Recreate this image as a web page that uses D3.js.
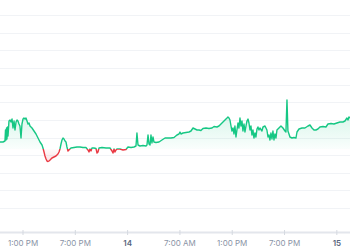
<!DOCTYPE html>
<html lang="en">
<head>
<meta charset="UTF-8">
<script src="https://d3js.org/d3.v7.min.js"></script>
<style>
    body { margin: 0; background: #fff; }
    .tick-label { font-family: Inter, "Noto Sans", sans-serif; font-size: 8px; fill: #8a93a6; }
    .tick-label.day { font-weight: 600; fill: #58667e; }
</style>
</head>
<body>
<div id="chart"></div>
<script>
// time in hours from 13th 00:00, price in quote units
const times = [10.36,10.70,10.93,10.99,11.05,11.11,11.16,11.22,11.28,11.39,11.51,11.62,11.74,11.85,11.97,12.08,12.20,12.31,12.42,12.54,
    12.65,12.77,12.88,13.00,13.11,13.23,13.34,13.46,13.57,13.69,13.80,14.03,14.26,14.49,14.72,14.95,15.18,15.29,15.41,15.52,
    15.64,15.75,15.87,15.98,16.10,16.32,16.55,16.78,17.01,17.13,17.24,17.36,17.47,17.59,17.70,17.82,17.93,18.04,18.16,18.27,
    18.50,18.85,19.19,19.54,19.88,20.22,20.45,20.57,20.68,20.80,20.91,21.14,21.37,21.49,21.60,21.72,22.06,22.52,22.98,23.21,
    23.32,23.44,23.55,23.67,23.78,24.12,24.47,24.81,25.04,25.39,25.73,25.96,26.07,26.19,26.42,26.76,27.11,27.22,27.34,27.45,
    27.57,27.68,27.79,27.91,28.02,28.25,28.60,28.94,29.29,29.63,29.97,30.32,30.66,30.89,31.01,31.12,31.35,31.69,32.04,32.27,
    32.50,32.73,32.96,33.19,33.41,33.64,33.99,34.33,34.68,34.91,35.25,35.48,35.71,35.94,36.17,36.40,36.51,36.63,36.74,36.86,
    36.97,37.09,37.20,37.31,37.43,37.54,37.66,37.77,37.89,38.00,38.12,38.23,38.35,38.46,38.58,38.69,38.81,38.92,39.04,39.15,
    39.26,39.38,39.49,39.61,39.72,39.84,39.95,40.07,40.18,40.41,40.53,40.76,40.98,41.10,41.21,41.33,41.44,41.56,41.67,41.79,
    41.90,42.02,42.13,42.36,42.59,42.82,43.05,43.16,43.28,43.39,43.51,43.62,43.85,44.08,44.31,44.43,44.66,45.00,45.34,45.69,
    45.92,46.15,46.38,46.60,46.83,47.06,47.41,47.75,47.98,48.33,48.67,49.01,49.36,49.70,49.93,50.16,50.28,50.39,50.51];

const prices = [4.32,4.32,4.36,4.80,4.40,4.88,4.44,4.92,4.56,5.16,5.20,5.12,5.24,4.88,5.16,4.80,5.12,5.20,5.16,5.04,
    4.96,4.48,5.04,5.24,5.28,5.24,5.28,5.16,5.04,5.08,4.96,4.88,4.76,4.64,4.48,4.32,4.20,4.08,3.92,3.76,
    3.64,3.56,3.54,3.56,3.60,3.68,3.72,3.76,3.84,3.92,4.04,4.24,4.40,4.48,4.44,4.36,4.32,4.12,3.96,4.00,
    4.08,4.10,4.12,4.12,4.10,4.10,4.00,3.92,4.04,3.96,4.08,4.08,4.06,3.88,3.92,4.08,4.10,4.08,4.08,3.96,
    3.88,4.04,3.92,4.00,4.04,4.04,4.00,4.02,4.12,4.10,4.12,4.16,4.68,4.20,4.16,4.18,4.16,4.20,4.60,4.24,
    4.20,4.60,4.28,4.52,4.32,4.30,4.32,4.40,4.48,4.48,4.48,4.50,4.60,4.64,4.72,4.64,4.68,4.70,4.72,4.76,
    4.88,4.84,4.80,4.80,4.78,4.86,4.88,4.86,4.88,4.94,4.92,4.96,5.04,5.12,5.20,5.28,5.32,5.28,5.20,4.96,
    4.76,4.88,4.64,4.96,4.52,4.80,5.08,4.88,5.28,4.96,5.16,4.76,5.04,4.72,4.96,5.16,5.24,5.08,4.80,4.96,
    4.60,4.80,4.48,4.68,4.52,4.84,4.92,4.80,4.88,4.76,4.92,4.96,4.80,4.52,4.60,4.40,4.68,4.44,4.76,4.40,
    4.64,4.48,4.80,4.88,4.96,4.88,4.76,4.72,6.00,4.76,4.64,4.52,4.48,4.50,4.48,4.72,4.84,4.88,4.88,4.96,
    5.00,4.88,4.80,4.80,4.84,4.92,4.94,4.92,5.04,5.06,5.04,5.08,5.12,5.12,5.16,5.28,5.20,5.32,5.28];

// price the period opened at: green above, red below
const basePrice = 4.03;

const gridValues = [9.4, 8.7, 8.0, 7.3, 6.6, 5.9, 5.2, 4.5, 3.8, 3.1, 2.4, 1.7];
const tickHours = [13, 19, 25, 31, 37, 43, 49];
const tickLabels = ["1:00 PM", "7:00 PM", "14", "7:00 AM", "1:00 PM", "7:00 PM", "15"];

const width = 350, height = 250;
const axisY = 232;
const green = "#16c784", red = "#ea3943";

const data = times.map((t, i) => ({ t: t, p: prices[i] }));

const x = d3.scaleLinear().domain([10.36, 50.51]).range([0, width]);
const y = d3.scaleLinear().domain([0.72, 10]).range([axisY, 0]);
const yBase = y(basePrice);

const svg = d3.select("#chart").append("svg")
    .attr("width", width)
    .attr("height", height);

const defs = svg.append("defs");

const strokeGrad = defs.append("linearGradient")
    .attr("id", "strokeGrad")
    .attr("gradientUnits", "userSpaceOnUse")
    .attr("x1", 0).attr("y1", 0).attr("x2", 0).attr("y2", height);
strokeGrad.append("stop").attr("offset", yBase / height).attr("stop-color", green);
strokeGrad.append("stop").attr("offset", yBase / height).attr("stop-color", red);

const upFill = defs.append("linearGradient")
    .attr("id", "upFill")
    .attr("gradientUnits", "userSpaceOnUse")
    .attr("x1", 0).attr("y1", y(5.4)).attr("x2", 0).attr("y2", yBase);
upFill.append("stop").attr("offset", 0).attr("stop-color", green).attr("stop-opacity", 0.16);
upFill.append("stop").attr("offset", 1).attr("stop-color", green).attr("stop-opacity", 0.02);

const downFill = defs.append("linearGradient")
    .attr("id", "downFill")
    .attr("gradientUnits", "userSpaceOnUse")
    .attr("x1", 0).attr("y1", yBase).attr("x2", 0).attr("y2", y(3.5));
downFill.append("stop").attr("offset", 0).attr("stop-color", red).attr("stop-opacity", 0.02);
downFill.append("stop").attr("offset", 1).attr("stop-color", red).attr("stop-opacity", 0.16);

defs.append("clipPath").attr("id", "clipUp")
    .append("rect").attr("x", 0).attr("y", 0).attr("width", width).attr("height", yBase);
defs.append("clipPath").attr("id", "clipDown")
    .append("rect").attr("x", 0).attr("y", yBase).attr("width", width).attr("height", height - yBase);

// grid
svg.append("g")
    .selectAll("line")
    .data(gridValues)
    .enter()
    .append("line")
    .attr("x1", 0).attr("x2", width)
    .attr("y1", d => Math.round(y(d)) + 0.5)
    .attr("y2", d => Math.round(y(d)) + 0.5)
    .attr("stroke", "#f1f3f6")
    .attr("stroke-width", 1);

const area = d3.area()
    .x(d => x(d.t))
    .y0(yBase)
    .y1(d => y(d.p));

svg.append("path")
    .datum(data)
    .attr("d", area)
    .attr("fill", "url(#upFill)")
    .attr("clip-path", "url(#clipUp)");

svg.append("path")
    .datum(data)
    .attr("d", area)
    .attr("fill", "url(#downFill)")
    .attr("clip-path", "url(#clipDown)");

const line = d3.line()
    .x(d => x(d.t))
    .y(d => y(d.p));

svg.append("path")
    .datum(data)
    .attr("d", line)
    .attr("fill", "none")
    .attr("stroke", "url(#strokeGrad)")
    .attr("stroke-width", 1.4)
    .attr("stroke-linejoin", "round");

// x axis
svg.append("line")
    .attr("x1", 0).attr("x2", width)
    .attr("y1", axisY + 0.5).attr("y2", axisY + 0.5)
    .attr("stroke", "#e3e6ec")
    .attr("stroke-width", 2);

const ticks = svg.append("g")
    .selectAll("g")
    .data(tickHours)
    .enter()
    .append("g")
    .attr("transform", d => `translate(${x(d)},0)`);

ticks.append("line")
    .attr("y1", axisY - 2).attr("y2", axisY + 3)
    .attr("stroke", "#d5d9e0");

ticks.append("text")
    .attr("class", (d, i) => /^\d+$/.test(tickLabels[i]) ? "tick-label day" : "tick-label")
    .attr("y", 246)
    .attr("text-anchor", "middle")
    .text((d, i) => tickLabels[i]);
</script>
</body>
</html>
